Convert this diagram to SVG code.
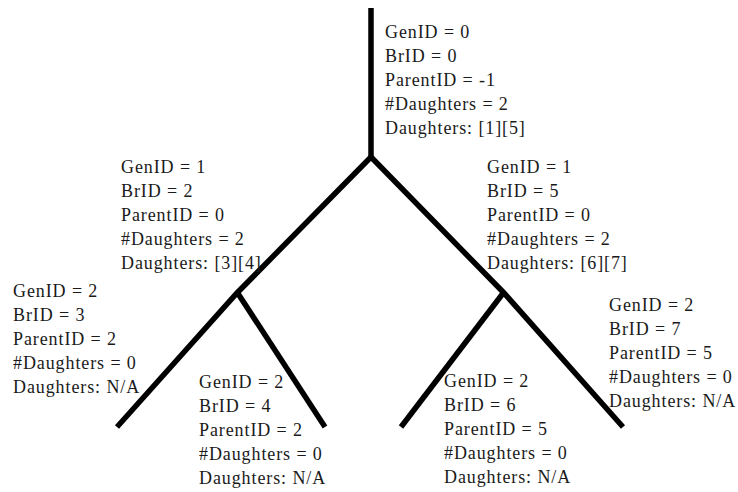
<svg xmlns="http://www.w3.org/2000/svg" width="738" height="492" viewBox="0 0 738 492">
  <style>
    .br { fill: none; stroke: #000; stroke-width: 5.5; stroke-linecap: butt; stroke-linejoin: miter; }
    .lbl { font-family: "Liberation Serif", "Times New Roman", serif; font-size: 18px; letter-spacing: 0.9px; fill: #1a1a1a; }
  </style>
  <rect width="738" height="492" fill="#fff"/>

  <!-- branches of the tree -->
  <g id="connectors">
    <path class="br" d="M371,8 V160"/>
    <path class="br" d="M371,157 L237,293 L117,427"/>
    <path class="br" d="M237,292 L325,427"/>
    <path class="br" d="M371,157 L504,293 L623,427"/>
    <path class="br" d="M504,292 L401,427"/>
  </g>

  <!-- branch records -->
  <g id="branch-0" class="lbl">
    <text x="385" y="38">GenID = 0</text>
    <text x="385" y="62">BrID = 0</text>
    <text x="385" y="86">ParentID = -1</text>
    <text x="385" y="110">#Daughters = 2</text>
    <text x="385" y="134">Daughters: [1][5]</text>
  </g>
  <g id="branch-2" class="lbl">
    <text x="121" y="173">GenID = 1</text>
    <text x="121" y="197">BrID = 2</text>
    <text x="121" y="221">ParentID = 0</text>
    <text x="121" y="245">#Daughters = 2</text>
    <text x="121" y="269">Daughters: [3][4]</text>
  </g>
  <g id="branch-5" class="lbl">
    <text x="487" y="173">GenID = 1</text>
    <text x="487" y="197">BrID = 5</text>
    <text x="487" y="221">ParentID = 0</text>
    <text x="487" y="245">#Daughters = 2</text>
    <text x="487" y="269">Daughters: [6][7]</text>
  </g>
  <g id="branch-3" class="lbl">
    <text x="13" y="297">GenID = 2</text>
    <text x="13" y="321">BrID = 3</text>
    <text x="13" y="345">ParentID = 2</text>
    <text x="13" y="369">#Daughters = 0</text>
    <text x="13" y="393">Daughters: N/A</text>
  </g>
  <g id="branch-4" class="lbl">
    <text x="199" y="388">GenID = 2</text>
    <text x="199" y="412">BrID = 4</text>
    <text x="199" y="436">ParentID = 2</text>
    <text x="199" y="460">#Daughters = 0</text>
    <text x="199" y="484">Daughters: N/A</text>
  </g>
  <g id="branch-6" class="lbl">
    <text x="444" y="387">GenID = 2</text>
    <text x="444" y="411">BrID = 6</text>
    <text x="444" y="435">ParentID = 5</text>
    <text x="444" y="459">#Daughters = 0</text>
    <text x="444" y="483">Daughters: N/A</text>
  </g>
  <g id="branch-7" class="lbl">
    <text x="609" y="311">GenID = 2</text>
    <text x="609" y="335">BrID = 7</text>
    <text x="609" y="359">ParentID = 5</text>
    <text x="609" y="383">#Daughters = 0</text>
    <text x="609" y="407">Daughters: N/A</text>
  </g>
</svg>
